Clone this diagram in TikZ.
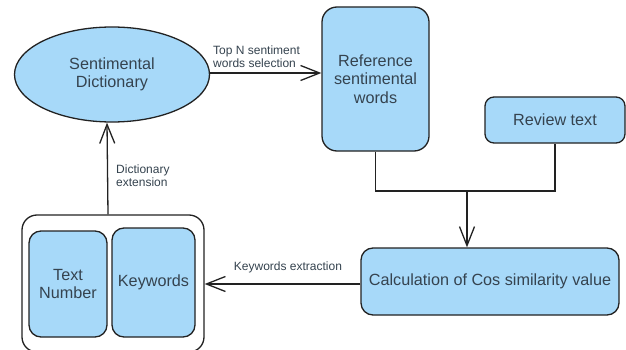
\documentclass[tikz,border=0pt]{standalone}
\usepackage{fontspec}
\setmainfont{Liberation Sans}
\usetikzlibrary{arrows.meta,shapes.geometric}
\definecolor{boxfill}{HTML}{A7D9F9}
\definecolor{txt}{HTML}{35434F}
\definecolor{edge}{HTML}{222222}
\tikzset{
  box/.style={draw=edge, line width=1.3pt, fill=boxfill, text=txt, align=center,
    font=\fontsize{16.2}{18.5}\selectfont, inner sep=2pt},
  lbl/.style={text=txt, font=\fontsize{12}{13}\selectfont, inner sep=0pt},
  conn/.style={draw=edge, line width=1.3pt},
  arr/.style={conn, -{Straight Barb[length=19pt,width=15pt,line width=1.3pt]}}
}
\begin{document}
\begin{tikzpicture}[x=1pt,y=-1pt]
\useasboundingbox (0,0) rectangle (626,350);
\fill[white] (0,0) rectangle (626,350);
\node[box, ellipse, minimum width=195pt, minimum height=95pt] (dict) at (112,74.5) {Sentimental\\Dictionary};
\node[box, rectangle, rounded corners=15pt, minimum width=107pt, minimum height=144pt] (ref) at (375.5,79) {Reference\\sentimental\\words};
\node[box, rectangle, rounded corners=9pt, minimum width=140pt, minimum height=46pt] (rev) at (555,120) {Review text};
\node[box, rectangle, rounded corners=12pt, minimum width=258pt, minimum height=67pt] (calc) at (490,281.5) {Calculation of Cos similarity value};
\node[draw=edge, line width=1.3pt, fill=white, rectangle, rounded corners=15pt, minimum width=182pt, minimum height=137pt] (outer) at (113,283.5) {};
\node[box, rectangle, rounded corners=12pt, minimum width=78pt, minimum height=106pt] (tn) at (68,284) {Text\\Number};
\node[box, rectangle, rounded corners=12pt, minimum width=83pt, minimum height=109pt] (kw) at (153.5,282.5) {Keywords};
\coordinate (j) at (467,191);
\draw[arr] ([yshift=1.5pt]dict.east) -- ([yshift=1.5pt]dict.east -| ref.west);
\node[lbl, anchor=west, align=left] (toplbl) at (213,56.5) {Top N sentiment\\words selection};
\draw[arr] ([xshift=-5pt]outer.north) -- ([xshift=-5pt]dict.south);
\node[lbl, anchor=west, align=left] (dictlbl) at (116,175.5) {Dictionary\\extension};
\draw[arr] ([yshift=-2.5pt]calc.west) -- ([yshift=-2.5pt]calc.west -| outer.east);
\node[lbl] (kwlbl) at (288,267) {Keywords extraction};
\draw[conn] (ref.south) |- (j) -| (rev.south);
\draw[arr] (j) -- (calc.north -| j);
\end{tikzpicture}
\end{document}
